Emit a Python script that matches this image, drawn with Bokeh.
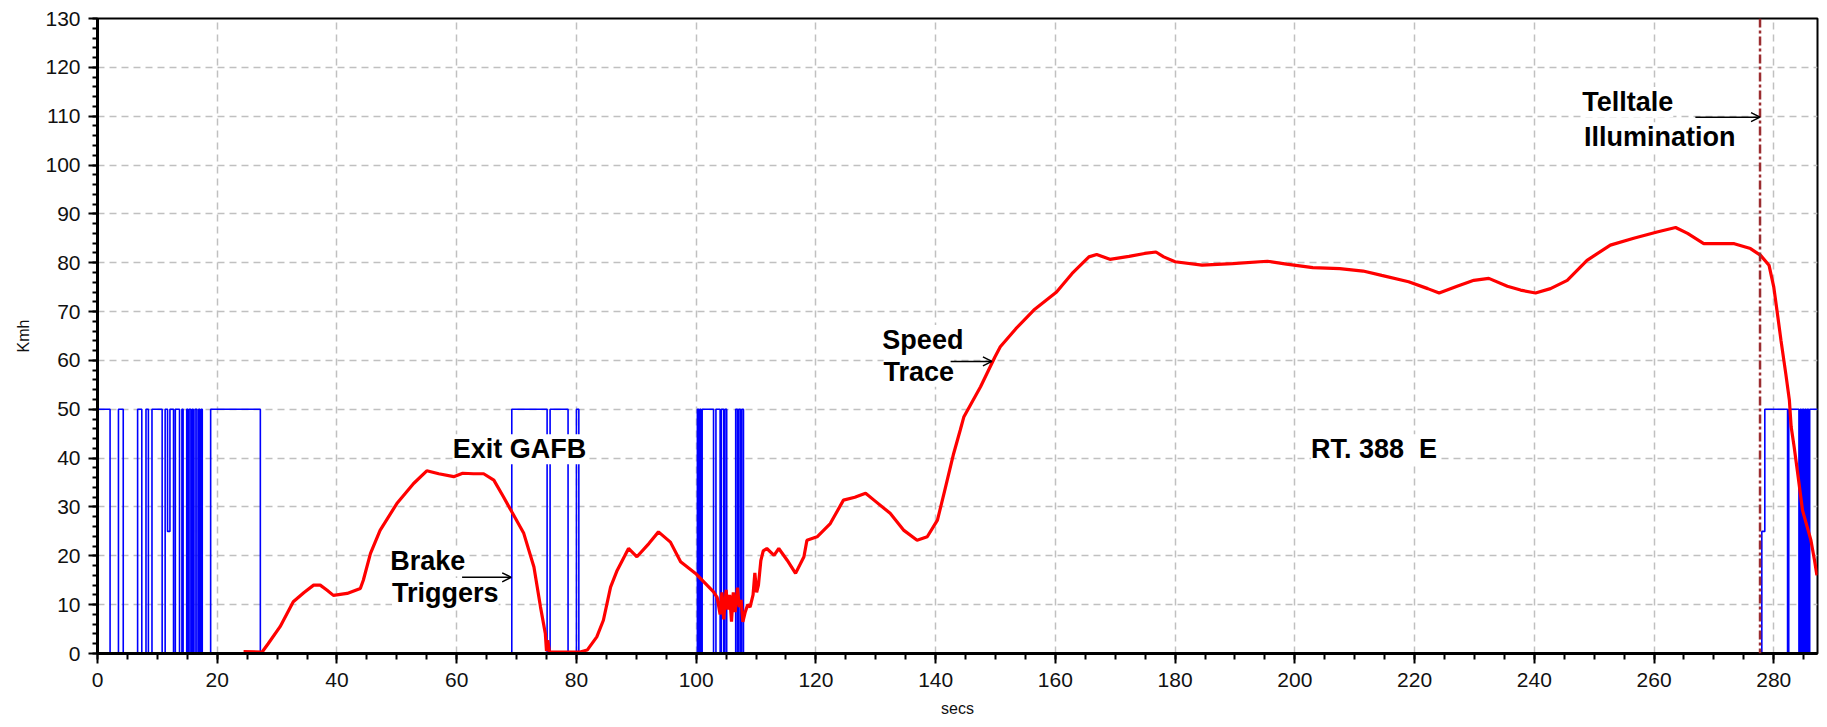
from bokeh.plotting import figure
from bokeh.models import Range1d, SingleIntervalTicker, Arrow, OpenHead, Span, Label
from bokeh.embed import file_html
from bokeh.resources import INLINE

# Vehicle speed trace: elapsed time (s) and speed (km/h)
speed_secs = [24.4, 27.5, 28.5, 30.5, 32.7, 34.5, 36.1, 37.2, 38.3, 39.4, 41.7, 43.9, 44.4, 45.6,
              47.2, 50.0, 52.8, 55.0, 57.0, 59.5, 61.0, 62.8, 64.5, 66.2, 67.8, 69.2, 71.2, 72.9,
              74.0, 74.8, 75.0, 75.2, 75.5, 80.6, 81.8, 83.4, 84.5, 85.7, 86.8, 88.7, 90.1, 92.1,
              93.7, 95.7, 97.4, 99.9, 102.9, 103.5, 104.0, 104.3, 104.6, 105.0, 105.3, 105.6,
              105.9, 106.2, 106.5, 106.9, 107.2, 107.5, 107.8, 108.2, 108.6, 109.0, 109.5, 109.8,
              110.1, 110.4, 110.8, 111.2, 111.8, 113.0, 113.8, 115.2, 116.6, 118.0, 118.5, 120.2,
              122.4, 124.6, 126.5, 128.3, 129.7, 132.4, 134.7, 136.9, 138.6, 140.3, 141.4, 143.0,
              144.1, 144.7, 147.5, 149.9, 150.8, 153.4, 156.4, 160.2, 162.8, 165.6, 166.9, 169.1,
              172.3, 174.9, 176.8, 178.1, 180.0, 184.5, 189.6, 195.4, 198.6, 203.0, 207.5, 211.4,
              214.5, 219.0, 222.2, 224.1, 227.1, 229.9, 232.4, 235.5, 237.7, 240.2, 242.7, 245.5,
              248.8, 252.7, 256.6, 260.5, 263.6, 265.6, 268.3, 273.4, 276.1, 277.8, 279.2, 280.0,
              280.6, 281.2, 282.0, 282.6, 282.9, 283.4, 284.0, 284.8, 286.2, 286.8, 287.2]
speed_kmh = [0.4, 0.3, 2.0, 5.5, 10.6, 12.5, 14.0, 14.0, 13.0, 11.9, 12.3, 13.3, 15.0, 20.5,
             25.2, 30.7, 34.8, 37.4, 36.8, 36.2, 36.9, 36.8, 36.8, 35.5, 32.1, 29.0, 24.6, 17.7,
             9.5, 4.1, 0.5, 2.7, 0.3, 0.3, 0.7, 3.4, 6.8, 13.6, 17.0, 21.5, 19.8, 22.5,
             24.9, 22.8, 18.8, 16.4, 12.6, 11.5, 8.0, 12.5, 7.0, 13.0, 9.0, 12.0,
             6.5, 12.5, 8.5, 13.5, 9.5, 11.0, 6.5, 8.5, 10.0, 9.5, 12.0, 16.5,
             12.5, 14.0, 19.0, 21.0, 21.5, 20.1, 21.5, 19.1, 16.4, 19.8, 23.2, 23.9,
             26.6, 31.4, 32.0, 32.8, 31.4, 28.7, 25.2, 23.2, 23.9, 27.3, 32.8, 40.9,
             45.7, 48.4, 54.6, 60.7, 62.8, 66.5, 70.3, 74.0, 77.8, 81.2, 81.7, 80.7,
             81.3, 81.9, 82.2, 81.2, 80.2, 79.5, 79.8, 80.3, 79.7, 79.0, 78.8, 78.3,
             77.4, 76.1, 74.7, 73.8, 75.2, 76.4, 76.8, 75.2, 74.4, 73.8, 74.7, 76.4,
             80.5, 83.6, 85.0, 86.3, 87.2, 86.0, 83.9, 83.9, 82.9, 81.5, 79.5, 75.0,
             69.6, 64.1, 57.3, 51.9, 46.4, 42.3, 36.8, 29.3, 23.2, 19.1, 16.0]

# Brake trigger channel: switch times (s) and logged level held until the next switch
brake_secs = [0, 2.1, 3.5, 4.3, 6.7, 7.4, 8.1, 8.5, 9.1, 10.8, 11.3, 11.7, 12.1, 12.7, 13.0, 13.7,
              14.1, 14.3, 14.9, 15.1, 15.3, 15.6, 15.8, 16.0, 16.3, 16.6, 16.9, 17.1, 17.3, 17.5,
              18.9, 27.2,
              69.2, 75.1, 75.6, 78.6, 80.0, 80.4,
              100.2, 100.4, 100.6, 100.8, 101.0, 102.9, 103.3, 104.0, 104.2, 104.6, 104.8, 105.1,
              106.6, 106.9, 107.1, 107.4, 107.6, 107.9,
              278.0, 278.5, 282.3, 282.5, 284.2, 284.4, 284.6, 284.8, 285.0, 285.2, 285.4, 285.6,
              285.8, 286.0, 287.3]
brake_level = [50, 0, 50, 0, 50, 0, 50, 0, 50, 0, 50, 25, 50, 0, 50, 0,
               50, 0, 50, 0, 50, 0, 50, 0, 50, 0, 50, 0, 50, 0,
               50, 0,
               50, 0, 50, 0, 50, 0,
               50, 0, 50, 0, 50, 0, 50, 0, 50, 0, 50, 0,
               50, 0, 50, 0, 50, 0,
               25, 50, 0, 50, 0, 50, 0, 50, 0, 50, 0, 50,
               0, 50, 50]

# Moment the dashboard telltale lit (s)
telltale_secs = 277.7

x_end = 287.3
y_end = 130
x_tick_step = 20
y_tick_step = 10

FONT = "Liberation Sans"

p = figure(frame_width=1720, frame_height=635,
           x_range=Range1d(0, x_end), y_range=Range1d(0, y_end),
           output_backend="svg", toolbar_location=None,
           min_border_left=97, min_border_right=10, min_border_top=18, min_border_bottom=74,
           background_fill_color="white", border_fill_color="white")

p.outline_line_color = "black"
p.outline_line_width = 2
p.outline_line_alpha = 1.0

p.xaxis.ticker = SingleIntervalTicker(interval=x_tick_step, num_minor_ticks=4)
p.yaxis.ticker = SingleIntervalTicker(interval=y_tick_step, num_minor_ticks=5)
p.xgrid.ticker = p.xaxis.ticker
p.ygrid.ticker = p.yaxis.ticker

for ax in (p.xaxis, p.yaxis):
    ax.axis_line_color = "black"
    ax.axis_line_width = 3
    ax.major_tick_line_color = "black"
    ax.minor_tick_line_color = "black"
    ax.major_tick_line_width = 2
    ax.minor_tick_line_width = 2
    ax.major_tick_in = 0
    ax.minor_tick_in = 0
    ax.major_label_text_font = FONT
    ax.major_label_text_font_size = "21px"
    ax.major_label_text_color = "#111111"
    ax.axis_label_text_font = FONT
    ax.axis_label_text_font_size = "16px"
    ax.axis_label_text_font_style = "normal"
    ax.axis_label_text_color = "#111111"

p.xaxis.major_tick_out = 10
p.xaxis.minor_tick_out = 6
p.yaxis.major_tick_out = 9
p.yaxis.minor_tick_out = 5
p.xaxis.major_label_standoff = 9
p.yaxis.major_label_standoff = 8
p.xaxis.axis_label = "secs"
p.yaxis.axis_label = "Kmh"
p.xaxis.axis_label_standoff = 10
p.yaxis.axis_label_standoff = 10

p.grid.grid_line_color = "#c0c0c0"
p.grid.grid_line_width = 1.5
p.grid.grid_line_dash = "7 5"

# Brake trigger square wave
p.step(brake_secs, brake_level, mode="after", line_color="#0000ff", line_width=1.6)

# Telltale illumination marker
p.add_layout(Span(location=telltale_secs, dimension="height", line_color="#9b2d30",
                  line_width=2.5, line_dash="9 3 3 3"))

# Speed trace
p.line(speed_secs, speed_kmh, line_color="#ff0000", line_width=3.2)

# Text callouts with white boxes (x, baseline y, text)
callouts = [
    (59.35, 41.8, "Exit GAFB"),
    (202.7, 41.8, "RT. 388 \u00a0E"),
    (48.9, 18.9, "Brake"),
    (49.2, 12.4, "Triggers"),
    (131.1, 64.2, "Speed"),
    (131.3, 57.7, "Trace"),
    (248.0, 112.9, "Telltale"),
    (248.3, 105.7, "Illumination"),
]
for cx, cy, txt in callouts:
    p.add_layout(Label(x=cx, y=cy, text=txt, text_font=FONT, text_font_size="27px",
                       text_font_style="bold", text_color="black", text_baseline="alphabetic",
                       text_align="left", background_fill_color="white"))

# Pointer arrows
for xs, xe, yy in [(60.9, 69.1, 15.6), (142.5, 149.4, 59.8), (266.9, 277.7, 109.8)]:
    p.add_layout(Arrow(end=OpenHead(size=9, line_width=1.5, line_color="black"),
                       x_start=xs, y_start=yy, x_end=xe, y_end=yy,
                       line_color="black", line_width=1.5))

open("out.html", "w").write(file_html(p, INLINE))
